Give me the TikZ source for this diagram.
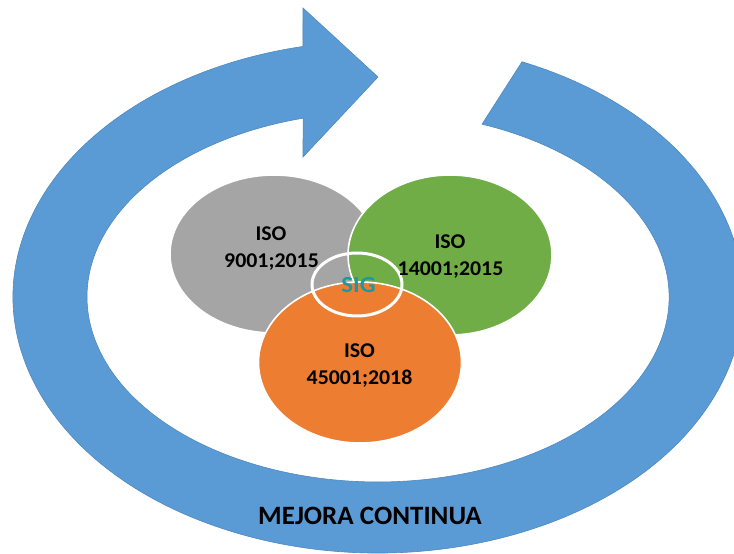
\documentclass[tikz,border=0pt]{standalone}
\usepackage{fontspec}
\setmainfont{Carlito}
\usetikzlibrary{shapes.geometric}
\definecolor{ringblue}{HTML}{5B9BD5}
\definecolor{ringedge}{HTML}{4F89BF}
\definecolor{isogray}{HTML}{A5A5A5}
\definecolor{isogreen}{HTML}{70AD47}
\definecolor{isoorange}{HTML}{ED7D31}
\definecolor{sigteal}{RGB}{28,152,158}
\tikzset{
  blob/.style={ellipse, inner sep=0pt, draw=white, line width=1.6pt},
  isotext/.style={anchor=base, inner sep=0pt, xscale=1.04, font=\bfseries\fontsize{21}{24}\selectfont, text=black},
}
\begin{document}
\begin{tikzpicture}[x=1pt,y=1pt]
\useasboundingbox (0,0) rectangle (734,554);
\clip (0,0) rectangle (734,554);
\fill[white] (0,0) rectangle (734,554);
% circular arrow
\path[fill=ringblue, draw=ringedge, line width=0.6pt, line join=miter]
  (378,257) ++(66.76:365pt and 256pt)
  arc[start angle=66.76, end angle=-258.14, x radius=365pt, y radius=256pt]
  -- (303,546) -- (378,477) -- (303,397) -- (303.1,435.8)
  arc[start angle=-255.07, end angle=69.06, x radius=291pt, y radius=185pt]
  -- cycle;
% circles
\node[blob, fill=isogray, minimum width=208pt, minimum height=158pt] (gray) at (274,300) {};
\node[blob, fill=isogreen, minimum width=204pt, minimum height=160pt] (green) at (450,299) {};
\node[blob, fill=isoorange, minimum width=203pt, minimum height=161pt] (orange) at (360,191.5) {};
\node[ellipse, inner sep=0pt, draw=white, line width=3pt, minimum width=90pt, minimum height=63pt] (sig) at (357,269.5) {};
% texts
\node[isotext] (g1) at (271,313.3) {ISO};
\node[isotext] (g2) at (271.5,286.3) {9001;2015};
\node[isotext] (r1) at (450,305) {ISO};
\node[isotext] (r2) at (450.5,278.3) {14001;2015};
\node[isotext] (o1) at (359.5,196.7) {ISO};
\node[isotext] (o2) at (359.5,169) {45001;2018};
\node[anchor=base, inner sep=0pt, xscale=1.08, font=\bfseries\fontsize{23}{26}\selectfont, text=sigteal] (sigtext) at (358.5,261.3) {SIG};
\node[anchor=base, inner sep=0pt, xscale=1.02, font=\bfseries\fontsize{26.5}{30}\selectfont, text=black] (mejora) at (370,29) {MEJORA CONTINUA};
\end{tikzpicture}
\end{document}
